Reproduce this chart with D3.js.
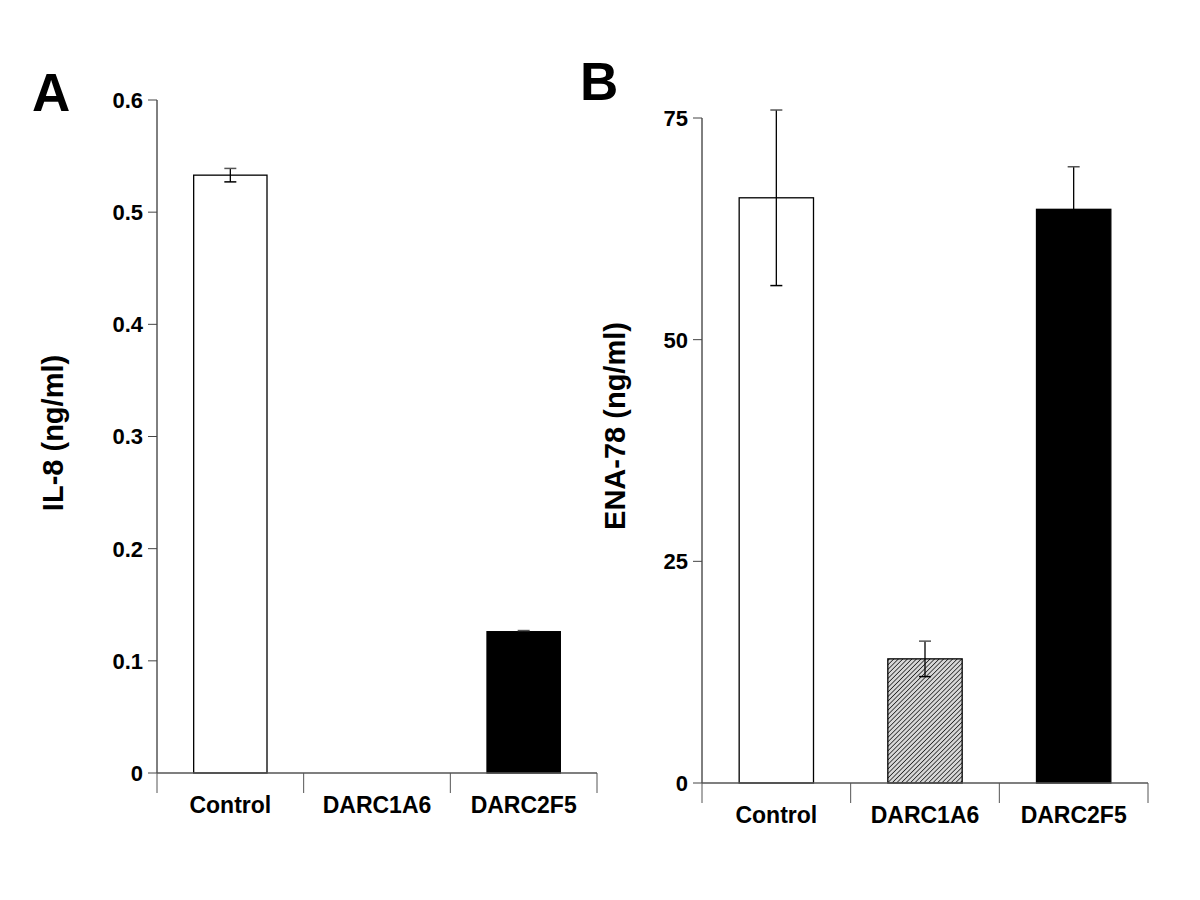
<!DOCTYPE html>
<html>
<head>
<meta charset="utf-8">
<script src="https://cdn.jsdelivr.net/npm/d3@7"></script>
<style>
body{margin:0;background:#fff;}
svg{display:block;font-family:"Liberation Sans",Arial,sans-serif;}
</style>
</head>
<body>
<svg id="display" width="1200" height="900"></svg>
<script>
// data
const categories=["Control","DARC1A6","DARC2F5"];
const il8_values=[0.533,0,0.126];
const il8_errors=[0.006,0,0.001];
const il8_ticks=[0,0.1,0.2,0.3,0.4,0.5,0.6];
const ena78_values=[66.0,14.0,64.7];
const ena78_errors=[9.9,2.0,4.8];
const ena78_ticks=[0,25,50,75];
const bar_fills=["#ffffff","url(#hatch)","#000000"];

const display=d3.select("#display");

// hatch pattern for DARC1A6
const defs=display.append("defs");
const pat=defs.append("pattern")
    .attr("id","hatch")
    .attr("patternUnits","userSpaceOnUse")
    .attr("width",3.2)
    .attr("height",3.2)
    .attr("patternTransform","rotate(45)");
pat.append("rect").attr("width",3.2).attr("height",3.2).attr("fill","#d8d8d8");
pat.append("line")
    .attr("x1",0).attr("y1",0).attr("x2",0).attr("y2",3.2)
    .attr("stroke","#1a1a1a").attr("stroke-width",1.5);

function draw_panel(p){
    const g=display.append("g");
    const x=d3.scaleBand().domain(categories).range([p.x0,p.x1]).padding(0);
    const y=d3.scaleLinear().domain([0,p.ymax]).range([p.y0,p.y1]);
    const bw=x.bandwidth()*0.5;

    // y axis line and ticks
    g.append("line")
        .attr("x1",p.x0).attr("y1",y(0))
        .attr("x2",p.x0).attr("y2",y(p.ymax))
        .attr("stroke","#000").attr("stroke-width",1);
    for (const t of p.ticks){
        g.append("line")
            .attr("x1",p.x0-9).attr("y1",y(t))
            .attr("x2",p.x0).attr("y2",y(t))
            .attr("stroke","#444").attr("stroke-width",1);
        g.append("text")
            .attr("x",p.x0-14)
            .attr("y",y(t))
            .attr("dy","0.36em")
            .style("font-size","22px")
            .style("font-weight","bold")
            .style("text-anchor","end")
            .text(p.fmt(t));
    }

    // bars
    categories.forEach(function(c,i){
        if (p.values[i]<=0) return;
        const bx=x(c)+(x.bandwidth()-bw)/2;
        g.append("rect")
            .attr("x",bx)
            .attr("y",y(p.values[i]))
            .attr("width",bw)
            .attr("height",y(0)-y(p.values[i]))
            .attr("fill",bar_fills[i])
            .attr("stroke","#000")
            .attr("stroke-width",1.3);
    });

    // x axis line and category ticks
    g.append("line")
        .attr("x1",p.x0).attr("y1",y(0))
        .attr("x2",p.x1).attr("y2",y(0))
        .attr("stroke","#555").attr("stroke-width",1.3);
    const bounds=categories.map(function(c){return x(c);}).concat([p.x1]);
    for (const bx of bounds){
        g.append("line")
            .attr("x1",bx).attr("y1",y(0))
            .attr("x2",bx).attr("y2",y(0)+20)
            .attr("stroke","#555").attr("stroke-width",1);
    }
    categories.forEach(function(c){
        g.append("text")
            .attr("x",x(c)+x.bandwidth()/2)
            .attr("y",y(0)+40)
            .style("font-size","23px")
            .style("font-weight","bold")
            .style("text-anchor","middle")
            .text(c);
    });

    // error bars
    categories.forEach(function(c,i){
        if (p.errors[i]<=0) return;
        const cx=x(c)+x.bandwidth()/2;
        const hi=y(p.values[i]+p.errors[i]);
        const lo=y(p.values[i]-p.errors[i]);
        g.append("line")
            .attr("x1",cx).attr("y1",hi).attr("x2",cx).attr("y2",lo)
            .attr("stroke","#000").attr("stroke-width",1.3);
        g.append("line")
            .attr("x1",cx-6).attr("y1",hi).attr("x2",cx+6).attr("y2",hi)
            .attr("stroke","#555").attr("stroke-width",1.5);
        g.append("line")
            .attr("x1",cx-6).attr("y1",lo).attr("x2",cx+6).attr("y2",lo)
            .attr("stroke","#000").attr("stroke-width",1.5);
    });

    // y label
    g.append("text")
        .attr("transform","translate("+p.lx+","+p.ly+") rotate(-90)")
        .style("font-size","29px")
        .style("font-weight","bold")
        .style("text-anchor","middle")
        .text(p.ylabel);

    // panel letter
    g.append("text")
        .attr("x",p.px)
        .attr("y",p.py)
        .style("font-size","53px")
        .style("font-weight","bold")
        .text(p.letter);
}

draw_panel({
    x0:157,x1:597,y0:773,y1:100,ymax:0.6,
    ticks:il8_ticks,values:il8_values,errors:il8_errors,
    fmt:function(t){return t===0?"0":d3.format(".1f")(t);},
    ylabel:"IL-8 (ng/ml)",lx:63,ly:433,
    letter:"A",px:32,py:111
});

draw_panel({
    x0:702,x1:1148,y0:783,y1:118,ymax:75,
    ticks:ena78_ticks,values:ena78_values,errors:ena78_errors,
    fmt:function(t){return String(t);},
    ylabel:"ENA-78 (ng/ml)",lx:625,ly:426,
    letter:"B",px:580,py:100
});
</script>
</body>
</html>
